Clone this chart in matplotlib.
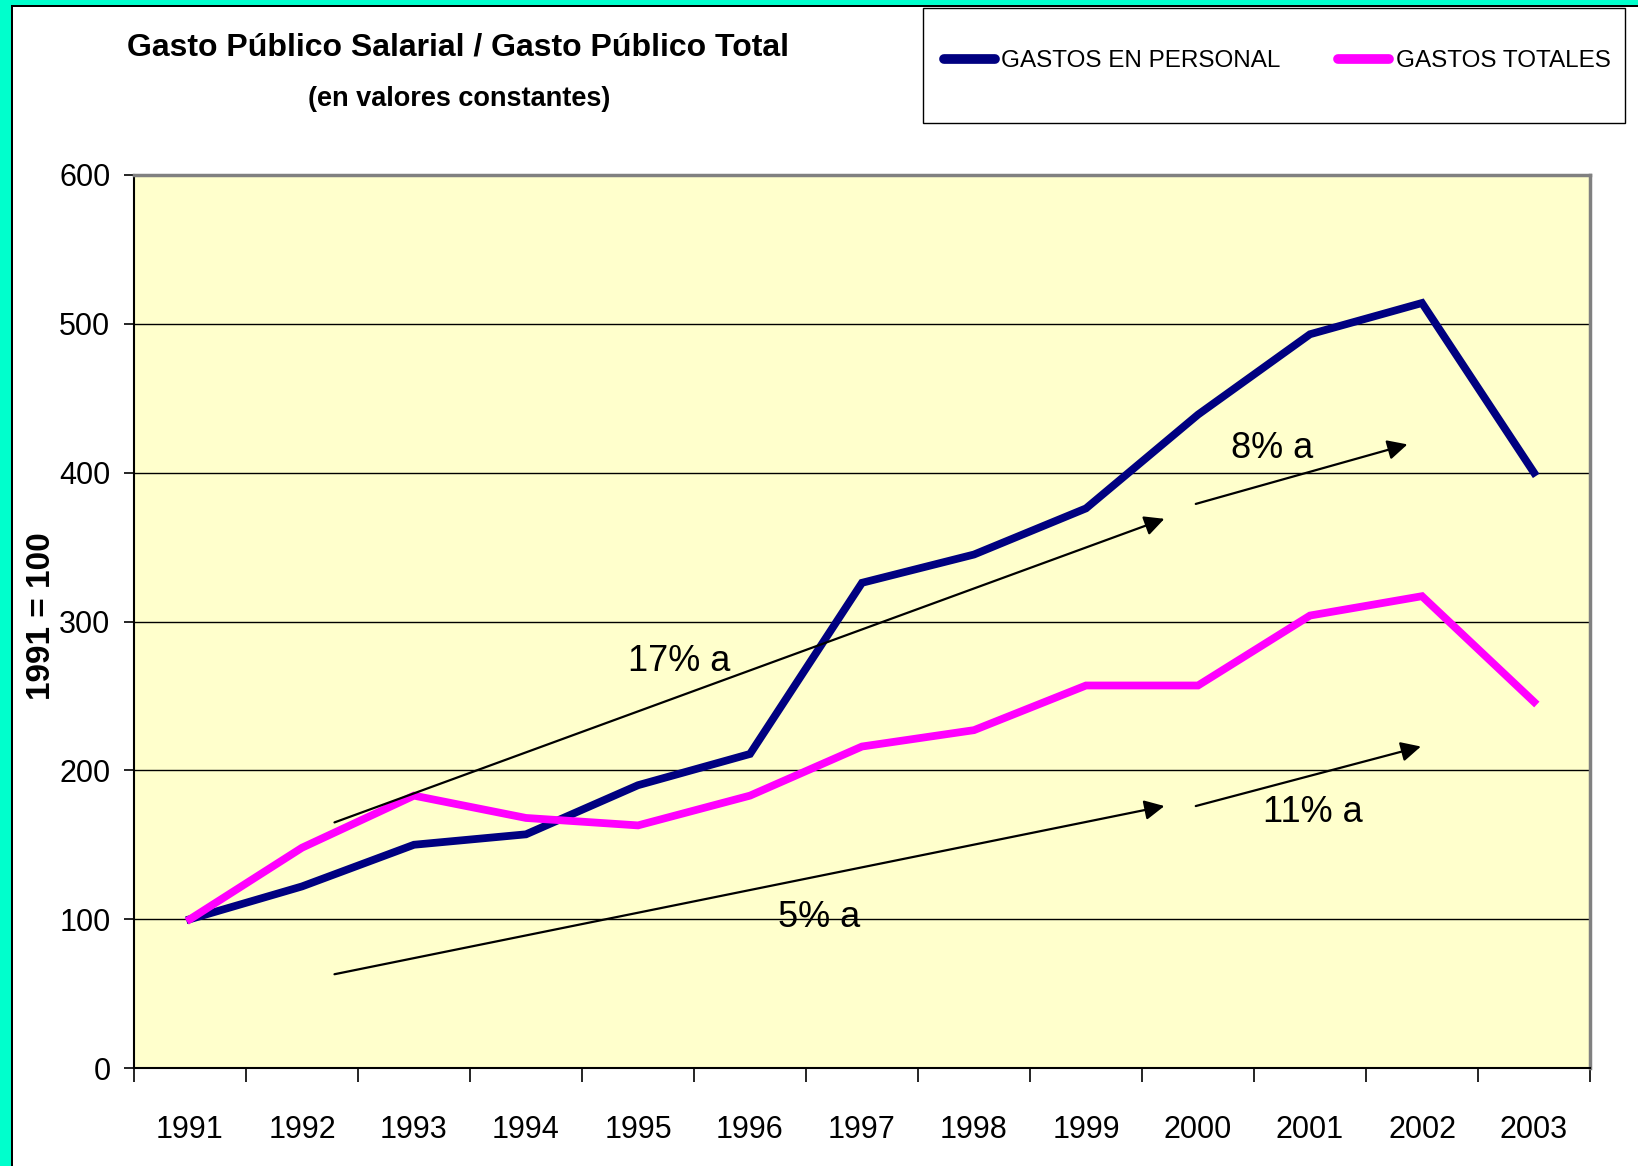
import matplotlib
matplotlib.use("Agg")
import matplotlib.pyplot as plt
from matplotlib.patches import Rectangle
from matplotlib.lines import Line2D

# data (index 1991 = 100)
years = [1991, 1992, 1993, 1994, 1995, 1996, 1997, 1998, 1999, 2000, 2001, 2002, 2003]
gastos_personal = [100, 122, 150, 157, 190, 211, 326, 345, 376, 439, 493, 514, 400]
gastos_totales = [100, 148, 183, 168, 163, 183, 216, 227, 257, 257, 304, 317, 246]
yticks = [0, 100, 200, 300, 400, 500, 600]

# growth-rate notes: (text, x, y) and arrows ((x0, y0), (x1, y1))
notes = [("17% a", 1995.37, 273), ("8% a", 2000.66, 416),
         ("11% a", 2001.03, 172), ("5% a", 1996.62, 101)]
arrows = [((1992.29, 165), (1999.70, 369)),
          ((1999.98, 379), (2001.87, 419)),
          ((1992.29, 63), (1999.70, 176)),
          ((1999.98, 176), (2001.99, 216))]

font = ["Liberation Sans", "DejaVu Sans"]

W, H = 1638, 1166
fig = plt.figure(figsize=(W / 100, H / 100), dpi=100, facecolor="white")

# cyan frame on top and left, with a black inner line
fig.patches.append(Rectangle((0, 1 - 5 / H), 1, 5 / H, transform=fig.transFigure,
                             facecolor="#00FFCC", edgecolor="none", zorder=0))
fig.patches.append(Rectangle((0, 1 - 7 / H), 1, 2 / H, transform=fig.transFigure,
                             facecolor="black", edgecolor="none", zorder=0))
fig.patches.append(Rectangle((0, 0), 11 / W, 1, transform=fig.transFigure,
                             facecolor="#00FFCC", edgecolor="none", zorder=0))
fig.patches.append(Rectangle((11 / W, 0), 2 / W, 1 - 5 / H, transform=fig.transFigure,
                             facecolor="black", edgecolor="none", zorder=0))

ax = fig.add_axes([134 / W, 1 - 1068 / H, (1590 - 134) / W, (1068 - 175) / H])
ax.set_facecolor("#FFFFCC")

ax.plot(years, gastos_personal, color="#000080", lw=5.6, solid_joinstyle="miter", zorder=3)
ax.plot(years, gastos_totales, color="#FF00FF", lw=5.6, solid_joinstyle="miter", zorder=3)

ax.set_xlim(years[0] - 0.5, years[-1] + 0.5)
ax.set_ylim(0, 600)
ax.set_yticks(yticks)
ax.set_xticks(years)
ax.set_xticklabels([str(y) for y in years], family=font, fontsize=22)
ax.set_xticks([y - 0.5 for y in years] + [years[-1] + 0.5], minor=True)
ax.tick_params(axis="x", which="major", length=0, pad=34)
ax.tick_params(axis="x", which="minor", length=10, width=1.2, color="black")
ax.tick_params(axis="y", length=7, width=1.2, pad=10)
for lab in ax.get_yticklabels():
    lab.set_family(font)
    lab.set_fontsize(22)

ax.yaxis.grid(True, color="black", lw=1.0, zorder=1)
ax.set_axisbelow(True)
for s in ["left", "bottom"]:
    ax.spines[s].set_color("black")
    ax.spines[s].set_linewidth(1.5)
for s in ["top", "right"]:
    ax.spines[s].set_color("#808080")
    ax.spines[s].set_linewidth(2.5)

for (x0, y0), (x1, y1) in arrows:
    ax.annotate("", xy=(x1, y1), xytext=(x0, y0),
                arrowprops=dict(arrowstyle="-|>", color="black", lw=1.6,
                                mutation_scale=30, shrinkA=0, shrinkB=0),
                zorder=4)
for txt, x, y in notes:
    ax.text(x, y, txt, family=font, fontsize=26, ha="center", va="center", zorder=5)

fig.text(42 / W, 1 - 616 / H, "1991 = 100", rotation=90, family=font,
         fontweight="bold", fontsize=24, ha="center", va="center")

fig.text(458 / W, 1 - 47 / H, "Gasto Público Salarial / Gasto Público Total",
         family=font, fontweight="bold", fontsize=23, ha="center", va="center")
fig.text(459 / W, 1 - 99 / H, "(en valores constantes)",
         family=font, fontweight="bold", fontsize=19.5, ha="center", va="center")

# legend box
fig.patches.append(Rectangle((923 / W, 1 - 123 / H), (1625 - 923) / W, (123 - 8) / H,
                             transform=fig.transFigure, facecolor="white",
                             edgecolor="black", lw=1.0, zorder=1))
handles = [Line2D([], [], color="#000080", lw=7, solid_capstyle="round"),
           Line2D([], [], color="#FF00FF", lw=7, solid_capstyle="round")]
fig.legend(handles, ["GASTOS EN PERSONAL", "GASTOS TOTALES"], ncol=2,
           loc="center", bbox_to_anchor=(1277 / W, 1 - 61 / H), frameon=False,
           prop={"family": font, "size": 17.5}, handlelength=2.1,
           handletextpad=0.25, columnspacing=2.4)

fig.savefig("out.png", dpi=100, facecolor="white")
